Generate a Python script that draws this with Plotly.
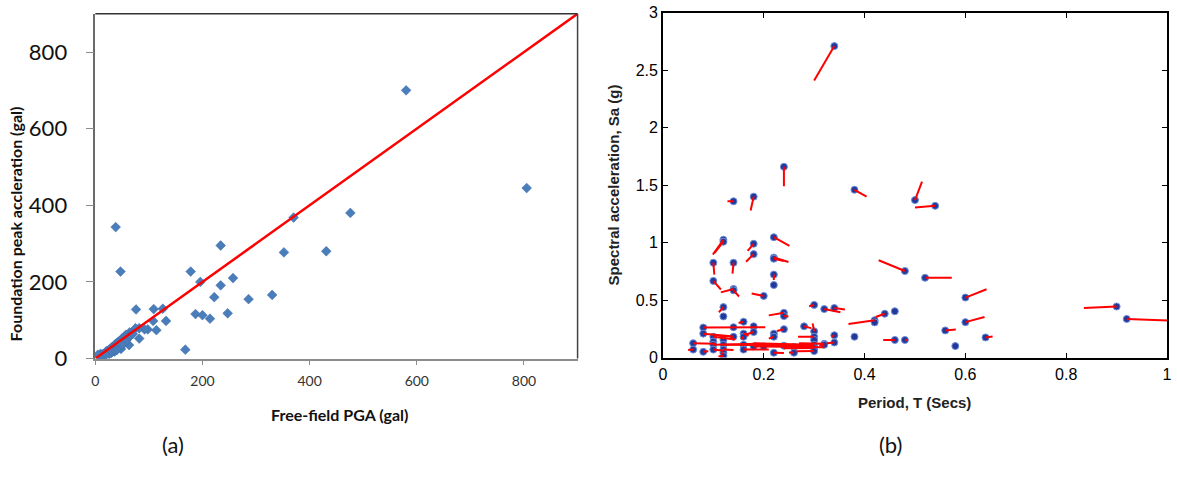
import plotly.graph_objects as go

# ---------------- Panel (a) data ----------------
pga_free = [580, 805, 476, 370, 38, 47, 234, 352, 431, 178, 196, 234, 257, 222, 286, 330,
            187, 200, 214, 247, 168, 76, 109, 126, 132, 108, 114, 98, 92, 82, 75, 82,
            64, 60, 63, 68, 57, 54, 50, 47, 45, 42, 40, 37, 35, 32, 30, 28, 25, 22, 20,
            18, 15, 12, 10, 8, 5, 46, 48, 52, 44, 40, 36, 30, 26, 58, 62, 66, 70, 56, 50, 15, 20]
pga_found = [700, 445, 380, 368, 343, 227, 295, 277, 280, 227, 200, 191, 210, 160, 155, 166,
             116, 113, 104, 118, 23, 128, 129, 130, 98, 98, 74, 76, 76, 79, 79, 52,
             68, 60, 35, 65, 62, 56, 52, 48, 45, 42, 40, 37, 33, 30, 28, 25, 22, 20, 18,
             14, 12, 10, 12, 8, 10, 30, 25, 40, 35, 22, 18, 15, 12, 48, 55, 60, 64, 42, 36, 6, 10]
line_a_x = [0, 900]
line_a_y = [0, 900]

# ---------------- Panel (b) data ----------------
period = [0.34, 0.24, 0.38, 0.50, 0.54, 0.14, 0.18, 0.12, 0.12, 0.18, 0.18, 0.22, 0.22, 0.22,
          0.10, 0.14, 0.22, 0.22, 0.10, 0.14, 0.14, 0.20, 0.48, 0.52, 0.60, 0.60, 0.90, 0.92,
          0.12, 0.12, 0.30, 0.32, 0.34, 0.24, 0.24, 0.44, 0.46, 0.42, 0.42, 0.16, 0.08, 0.14,
          0.18, 0.24, 0.28, 0.30, 0.56, 0.64, 0.58, 0.38, 0.46, 0.48, 0.08, 0.10, 0.14, 0.16,
          0.16, 0.18, 0.22, 0.22, 0.34, 0.34, 0.32, 0.30, 0.30, 0.30, 0.30, 0.30, 0.06, 0.06,
          0.08, 0.10, 0.10, 0.10, 0.12, 0.12, 0.12, 0.12, 0.12, 0.16, 0.16, 0.18, 0.20, 0.24,
          0.26, 0.26, 0.22, 0.32]
sa = [2.71, 1.66, 1.46, 1.37, 1.32, 1.36, 1.40, 1.025, 1.008, 0.99, 0.90, 1.047, 0.87, 0.86,
      0.825, 0.825, 0.722, 0.631, 0.667, 0.597, 0.585, 0.536, 0.753, 0.694, 0.522, 0.308, 0.444, 0.336,
      0.439, 0.358, 0.458, 0.422, 0.431, 0.389, 0.361, 0.381, 0.403, 0.325, 0.306, 0.311, 0.261, 0.264,
      0.272, 0.247, 0.272, 0.228, 0.236, 0.175, 0.100, 0.181, 0.153, 0.153, 0.208, 0.181, 0.181, 0.208,
      0.181, 0.222, 0.208, 0.181, 0.194, 0.131, 0.119, 0.181, 0.153, 0.111, 0.083, 0.056, 0.125, 0.069,
      0.050, 0.139, 0.111, 0.069, 0.153, 0.111, 0.069, 0.040, 0.014, 0.111, 0.069, 0.097, 0.097, 0.103,
      0.092, 0.042, 0.042, 0.111]
period_end = [0.30, 0.24, 0.404, 0.514, 0.50, 0.128, 0.174, 0.099, 0.102, 0.168, 0.165, 0.251, 0.249, 0.24,
              0.102, 0.138, 0.22, 0.22, 0.115, 0.115, 0.151, 0.176, 0.428, 0.573, 0.642, 0.638, 0.835, 1.02,
              0.111, 0.12, 0.29, 0.352, 0.361, 0.21, 0.249, 0.422, 0.46, 0.368, 0.42, 0.15, 0.203, 0.14,
              0.18, 0.226, 0.294, 0.297, 0.581, 0.654, 0.58, 0.38, 0.437, 0.484, 0.136, 0.143, 0.11, 0.17,
              0.155, 0.165, 0.22, 0.21, 0.335, 0.325, 0.27, 0.268, 0.30, 0.18, 0.24, 0.265, 0.103, 0.05,
              0.09, 0.10, 0.19, 0.12, 0.12, 0.25, 0.14, 0.115, 0.11, 0.20, 0.21, 0.29, 0.20, 0.30,
              0.32, 0.25, 0.24, 0.31]
sa_end = [2.41, 1.49, 1.40, 1.53, 1.305, 1.36, 1.28, 0.897, 0.908, 0.928, 0.833, 0.972, 0.831, 0.84,
          0.722, 0.731, 0.675, 0.631, 0.592, 0.567, 0.531, 0.558, 0.847, 0.694, 0.594, 0.353, 0.431, 0.32,
          0.394, 0.358, 0.447, 0.394, 0.419, 0.367, 0.358, 0.353, 0.403, 0.292, 0.306, 0.300, 0.264, 0.264,
          0.272, 0.231, 0.256, 0.297, 0.244, 0.183, 0.100, 0.181, 0.153, 0.153, 0.186, 0.158, 0.19, 0.19,
          0.16, 0.20, 0.208, 0.165, 0.18, 0.125, 0.125, 0.181, 0.153, 0.125, 0.08, 0.055, 0.12, 0.065,
          0.055, 0.139, 0.12, 0.06, 0.153, 0.108, 0.065, 0.03, 0.01, 0.108, 0.07, 0.092, 0.097, 0.10,
          0.09, 0.045, 0.04, 0.105]

seg_x, seg_y = [], []
for x0, y0, x1, y1 in zip(period, sa, period_end, sa_end):
    seg_x += [x0, x1, None]
    seg_y += [y0, y1, None]

fig = go.Figure()

# Panel (a)
fig.add_trace(go.Scatter(x=pga_free, y=pga_found, mode="markers", xaxis="x", yaxis="y",
                         marker=dict(symbol="diamond", size=7.5, color="#4a7ebb",
                                     line=dict(color="#3a69a8", width=0.5)),
                         showlegend=False, cliponaxis=False))
fig.add_trace(go.Scatter(x=line_a_x, y=line_a_y, mode="lines", xaxis="x", yaxis="y",
                         line=dict(color="#ff0000", width=2.5), showlegend=False))

# Panel (b)
fig.add_trace(go.Scatter(x=period, y=sa, mode="markers", xaxis="x2", yaxis="y2",
                         marker=dict(symbol="circle", size=7, color="#22399a",
                                     line=dict(color="#6f8fd8", width=1)),
                         showlegend=False))
fig.add_trace(go.Scatter(x=seg_x, y=seg_y, mode="lines", xaxis="x2", yaxis="y2",
                         line=dict(color="#ff0000", width=2), connectgaps=False, showlegend=False))

left_dom_x = [92 / 1177, 578 / 1177]
left_dom_y = [1 - 366 / 496, 1 - 6 / 496]
right_dom_x = [664 / 1177, 1172 / 1177]
right_dom_y = [1 - 365 / 496, 1 - 5 / 496]

fig.update_layout(
    width=1177, height=496, margin=dict(l=0, r=0, t=0, b=0),
    paper_bgcolor="white", plot_bgcolor="white",
    xaxis=dict(domain=left_dom_x, range=[0, 900], tickvals=[0, 200, 400, 600, 800],
               showgrid=False, zeroline=False, showline=True, linecolor="#8c8c8c", linewidth=1.5,
               ticks="outside", ticklen=5, tickcolor="#8c8c8c", ticklabelstandoff=4,
               tickfont=dict(family="Lato", size=14, color="#333"), anchor="y"),
    yaxis=dict(domain=left_dom_y, range=[0, 900], tickvals=[0, 200, 400, 600, 800],
               showgrid=False, zeroline=False, showline=True, linecolor="#6a6a6a", linewidth=1.5,
               ticks="outside", ticklen=8, tickcolor="#8c8c8c", ticklabelstandoff=14,
               tickfont=dict(family="Lato", size=22, color="#111"), anchor="x"),
    xaxis2=dict(domain=right_dom_x, range=[0, 1], tickvals=[0, 0.2, 0.4, 0.6, 0.8, 1],
                ticktext=["0", "0.2", "0.4", "0.6", "0.8", "1"], ticklabeloverflow="allow",
                showgrid=False, zeroline=False, showline=True, linecolor="black", linewidth=1.5,
                mirror="ticks", ticks="inside", ticklen=5, tickcolor="black", ticklabelstandoff=2,
                tickfont=dict(family="Liberation Sans", size=16, color="black"), anchor="y2"),
    yaxis2=dict(domain=right_dom_y, range=[0, 3], tickvals=[0, 0.5, 1, 1.5, 2, 2.5, 3],
                ticktext=["0", "0.5", "1", "1.5", "2", "2.5", "3"], ticklabeloverflow="allow",
                showgrid=False, zeroline=False, showline=True, linecolor="black", linewidth=1.5,
                mirror="ticks", ticks="inside", ticklen=5, tickcolor="black",
                tickfont=dict(family="Liberation Sans", size=16, color="black"), anchor="x2"),
    shapes=[
        dict(type="line", xref="paper", yref="paper", x0=left_dom_x[0], x1=left_dom_x[1],
             y0=left_dom_y[1], y1=left_dom_y[1], line=dict(color="#333333", width=1.5)),
        dict(type="line", xref="paper", yref="paper", x0=left_dom_x[1], x1=left_dom_x[1],
             y0=left_dom_y[0], y1=left_dom_y[1], line=dict(color="#444444", width=1.5)),
    ],
    annotations=[
        dict(text="<b>Free-field PGA (gal)</b>", x=338 / 1177, y=1 - 424 / 496, xref="paper", yref="paper",
             showarrow=False, font=dict(family="Lato", size=16, color="#111"), xanchor="center", yanchor="middle"),
        dict(text="<b>Foundation peak accleration (gal)</b>", x=12 / 1177, y=1 - 225 / 496, xref="paper",
             yref="paper", showarrow=False, textangle=-90, font=dict(family="Lato", size=16, color="#111"),
             xanchor="center", yanchor="middle"),
        dict(text="<b>Period, T (Secs)</b>", x=918 / 1177, y=1 - 412 / 496, xref="paper", yref="paper",
             showarrow=False, font=dict(family="Liberation Sans", size=15, color="#222"),
             xanchor="center", yanchor="middle"),
        dict(text="<b>Spectral acceleration, Sa (g)</b>", x=614 / 1177, y=1 - 185 / 496, xref="paper",
             yref="paper", showarrow=False, textangle=-90,
             font=dict(family="Liberation Sans", size=15, color="#222"), xanchor="center", yanchor="middle"),
        dict(text="(a)", x=170 / 1177, y=1 - 456 / 496, xref="paper", yref="paper", showarrow=False,
             font=dict(family="Lato", size=22, color="#111"), xanchor="center", yanchor="middle"),
        dict(text="(b)", x=893 / 1177, y=1 - 456 / 496, xref="paper", yref="paper", showarrow=False,
             font=dict(family="Lato", size=22, color="#111"), xanchor="center", yanchor="middle"),
    ],
)

fig.write_html("out.html")
